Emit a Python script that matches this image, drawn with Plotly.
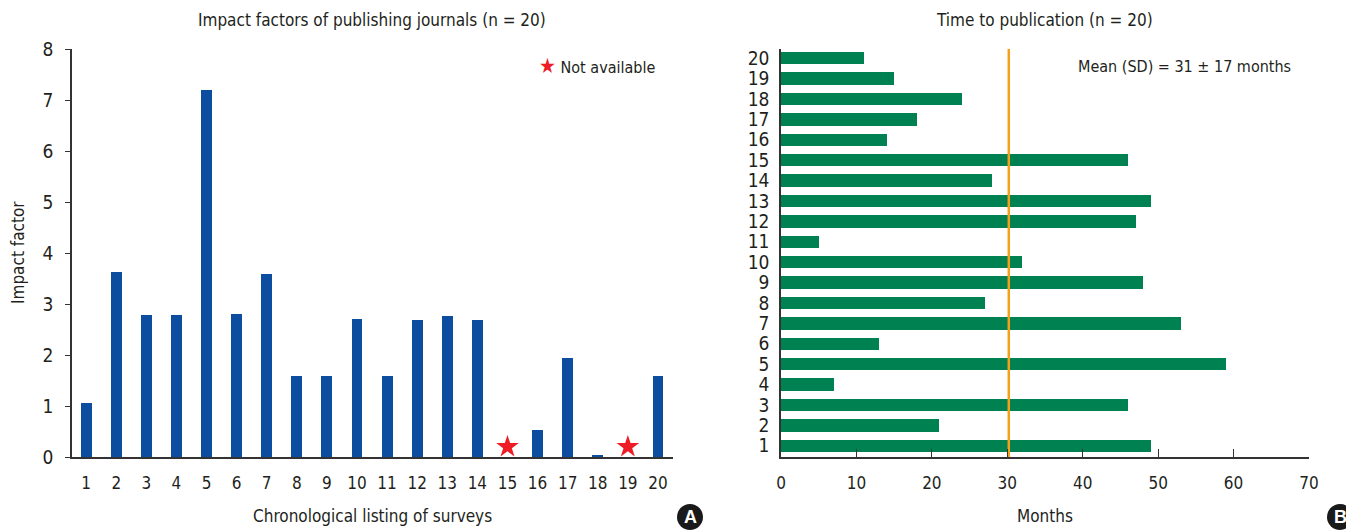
import plotly.graph_objects as go

# Panel A: impact factors (None = not available)
surveys = list(range(1, 21))
impact_factors = [1.05, 3.63, 2.79, 2.79, 7.2, 2.81, 3.59, 1.59, 1.59, 2.71,
                  1.59, 2.69, 2.77, 2.69, None, 0.52, 1.95, 0.03, None, 1.59]
na_marker_y = 0.2

# Panel B: months to publication
months = [49, 21, 46, 7, 59, 13, 53, 27, 48, 32,
          5, 47, 49, 28, 46, 14, 18, 24, 15, 11]
mean_line = 30.2

FONT = "DejaVu Sans Condensed, Liberation Sans Narrow, Roboto, sans-serif"
TXT = "#231f20"
BLUE = "#0c4da0"
GREEN = "#008152"
ORANGE = "#f5a01a"
RED = "#ee1c25"

# page body has an 8px margin, so positions are shifted by it
OFF = 8
W, H = 1354 - OFF, 530 - OFF
def px_x(v):
    return (v - OFF) / W
def px_y(v):
    return 1 - (v - OFF) / H

fig = go.Figure()

ifs = [v if v is not None else 0 for v in impact_factors]
fig.add_trace(go.Bar(x=surveys, y=ifs, width=0.36, marker=dict(color=BLUE, line=dict(width=0)),
                     xaxis="x", yaxis="y", showlegend=False))
na_x = [s for s, v in zip(surveys, impact_factors) if v is None]
fig.add_trace(go.Scatter(x=na_x, y=[na_marker_y] * len(na_x), mode="markers",
                         marker=dict(symbol="star", size=17, color=RED, line=dict(width=0)),
                         xaxis="x", yaxis="y", showlegend=False))

fig.add_trace(go.Bar(y=surveys, x=months, orientation="h", width=0.6,
                     marker=dict(color=GREEN, line=dict(width=0)),
                     xaxis="x2", yaxis="y2", showlegend=False))
fig.add_trace(go.Scatter(x=[mean_line, mean_line], y=[0.45, 20.45], mode="lines",
                         line=dict(color=ORANGE, width=2.5),
                         xaxis="x2", yaxis="y2", showlegend=False))

ydom = [px_y(457), px_y(49)]
axis_common = dict(showgrid=False, zeroline=False, showline=True, linecolor="#333333",
                   linewidth=1.5, automargin=False,
                   tickfont=dict(family=FONT, size=18, color=TXT))

fig.update_layout(
    width=W, height=H,
    margin=dict(l=0, r=0, t=0, b=0),
    plot_bgcolor="white", paper_bgcolor="white",
    bargap=0,
    xaxis=dict(domain=[px_x(72), px_x(673)], range=[0.53, 20.5], tickmode="array",
               tickvals=surveys, ticks="", ticklabelstandoff=10, anchor="y", **axis_common),
    yaxis=dict(domain=ydom, range=[0, 8], dtick=1, ticks="outside", ticklen=5,
               tickcolor="#333333", ticklabelstandoff=8, anchor="x", **axis_common),
    xaxis2=dict(domain=[px_x(781), px_x(1309)], range=[0, 70], dtick=10,
                ticks="inside", ticklen=8, tickcolor="#333333", ticklabelstandoff=10,
                anchor="y2", **axis_common),
    yaxis2=dict(domain=ydom, range=[0.45, 20.45], tickmode="array", tickvals=surveys,
                ticks="", ticklabelstandoff=6, anchor="x2", **axis_common),
)
fig.update_xaxes(tickfont_size=17)
fig.update_yaxes(tickfont_size=19)

def ann(text, x, y, size=17, xanchor="center", **kw):
    fig.add_annotation(text=text, x=px_x(x), y=px_y(y), xref="paper", yref="paper",
                       xanchor=xanchor, yanchor="middle", showarrow=False,
                       font=dict(family=FONT, size=size, color=TXT), **kw)

ann("Impact factors of publishing journals (n = 20)", 372, 20)
ann("Time to publication (n = 20)", 1044, 20)
ann("Impact factor", 18, 253, textangle=-90)
ann("Chronological listing of surveys", 372, 516)
ann("Months", 1045, 516)
ann("<span style='color:%s;font-size:21px'>★</span> Not available" % RED, 657, 66,
    size=16, xanchor="right")
ann("Mean (SD) = 31 ± 17 months", 1293, 66, size=16, xanchor="right")

for lbl, cx in (("A", 690), ("B", 1340)):
    fig.add_shape(type="circle", xref="paper", yref="paper",
                  x0=px_x(cx - 13), x1=px_x(cx + 13), y0=px_y(530), y1=px_y(504),
                  fillcolor="#1a1a1a", line=dict(width=0))
    fig.add_annotation(text="<b>%s</b>" % lbl, x=px_x(cx), y=px_y(517), xref="paper", yref="paper",
                       xanchor="center", yanchor="middle", showarrow=False,
                       font=dict(family="Liberation Sans, Arial", size=18, color="white"))

fig.write_html("out.html")
